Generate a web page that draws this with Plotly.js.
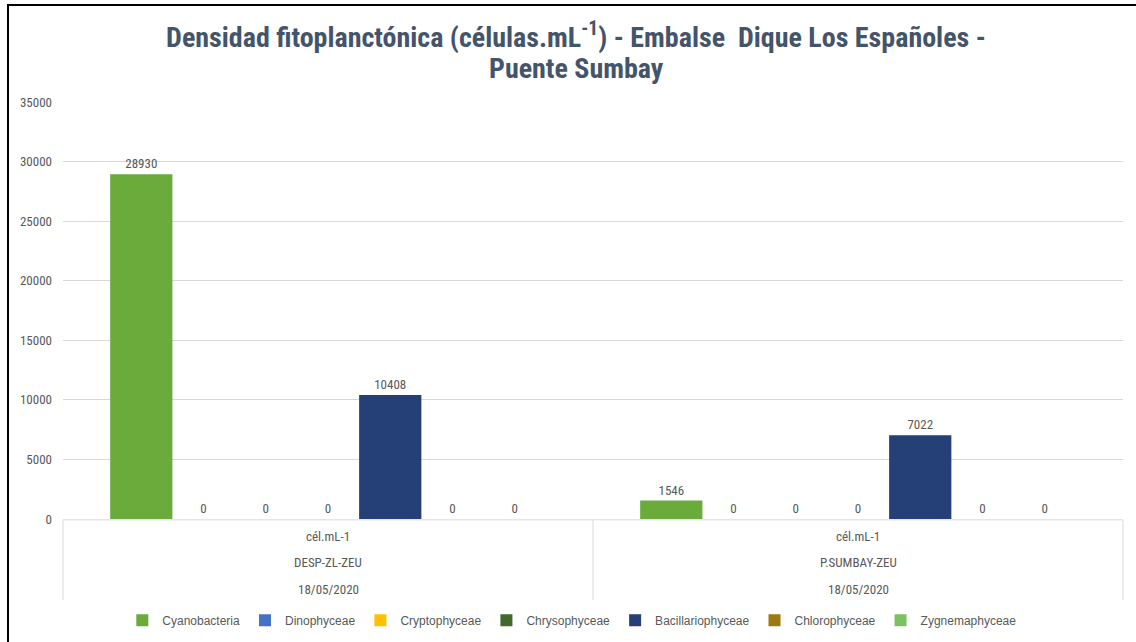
<!DOCTYPE html>
<html>
<head>
<meta charset="utf-8">
<script src="https://cdn.plot.ly/plotly-3.0.1.min.js"></script>
<style>
html,body{margin:0;padding:0;background:#fff;}
#chart{width:1136px;height:642px;}
#frame{position:absolute;left:7px;top:4px;width:1129px;height:638px;border-top:2px solid #000;border-left:2px solid #000;pointer-events:none;}
</style>
</head>
<body>
<div id="chart"></div>
<div id="frame"></div>
<script>
const sites = ['DESP-ZL-ZEU', 'P.SUMBAY-ZEU'];
const units = ['cél.mL-1', 'cél.mL-1'];
const dates = ['18/05/2020', '18/05/2020'];
const seriesNames = ['Cyanobacteria','Dinophyceae','Cryptophyceae','Chrysophyceae','Bacillariophyceae','Chlorophyceae','Zygnemaphyceae'];
const cyanobacteria = [28930, 1546];
const dinophyceae = [0, 0];
const cryptophyceae = [0, 0];
const chrysophyceae = [0, 0];
const bacillariophyceae = [10408, 7022];
const chlorophyceae = [0, 0];
const zygnemaphyceae = [0, 0];
const seriesValues = [cyanobacteria, dinophyceae, cryptophyceae, chrysophyceae, bacillariophyceae, chlorophyceae, zygnemaphyceae];
const seriesColors = ['#6AAB3C','#4472C4','#FFC000','#43682B','#253F77','#9C7A10','#7DC163'];
const titleLine1 = 'Densidad fitoplanctónica (células.mL<sup>-1</sup>) - Embalse  Dique Los Españoles -';
const titleLine2 = 'Puente Sumbay';

const narrow = '"Liberation Sans Narrow", "Arial Narrow", "Roboto Condensed", sans-serif';
const labelColor = '#595959';
const titleColor = '#44546A';
const titleSize = 28;

const traces = seriesNames.map((name, i) => ({
  type: 'bar',
  name: name,
  x: sites,
  y: seriesValues[i],
  marker: {color: seriesColors[i]},
  text: seriesValues[i].map(String),
  textposition: 'outside',
  textfont: {family: narrow, size: 13, color: labelColor},
  cliponaxis: false,
  hoverinfo: 'x+y+name'
}));

const annotations = [];
const rows = [units, sites, dates];
const rowY = [-0.042, -0.105, -0.168];
sites.forEach((s, j) => {
  rows.forEach((row, r) => {
    annotations.push({
      xref: 'paper', yref: 'paper',
      x: (j + 0.5) / sites.length, y: rowY[r],
      text: row[j], showarrow: false,
      xanchor: 'center', yanchor: 'middle',
      font: {family: narrow, size: 13, color: labelColor}
    });
  });
});
// second title line
annotations.push({
  xref: 'paper', yref: 'paper', x: (576 - 63) / 1060, y: 1 + (102 - 68) / 417,
  text: '<b>' + titleLine2 + '</b>', showarrow: false,
  xanchor: 'center', yanchor: 'middle',
  font: {family: narrow, size: titleSize, color: titleColor}
});

const lineColor = '#D9D9D9';
const shapes = [{type: 'line', xref: 'paper', yref: 'paper', x0: 0, x1: 1, y0: -0.002, y1: -0.002, line: {color: lineColor, width: 1}}];
for (let k = 0; k <= sites.length; k++) {
  shapes.push({type: 'line', xref: 'paper', yref: 'paper', x0: k / sites.length, x1: k / sites.length, y0: -0.002, y1: -0.195, line: {color: lineColor, width: 1}});
}

const layout = {
  width: 1136, height: 642,
  margin: {l: 63, r: 13, t: 102, b: 123, autoexpand: false},
  paper_bgcolor: '#fff', plot_bgcolor: '#fff',
  title: {
    text: '<b>' + titleLine1 + '</b>',
    font: {family: narrow, size: titleSize, color: titleColor},
    x: 0.507, xanchor: 'center', xref: 'container', y: 1 - 37 / 642, yanchor: 'middle', yref: 'container'
  },
  barmode: 'group', bargap: 0.178, bargroupgap: 0,
  xaxis: {showticklabels: false, showgrid: false, zeroline: false, showline: false, ticks: ''},
  yaxis: {
    range: [0, 35000], dtick: 5000, tick0: 0, tickformat: 'd',
    showgrid: true, gridcolor: lineColor, gridwidth: 1,
    zeroline: false, showline: false,
    tickfont: {family: narrow, size: 13, color: labelColor},
    ticklabelstandoff: 10
  },
  showlegend: true,
  legend: {
    orientation: 'h', x: 0.48, xanchor: 'center', y: -0.243, yanchor: 'middle',
    font: {family: '"Liberation Sans", Arial, sans-serif', size: 12, color: labelColor},
    traceorder: 'normal', itemwidth: 30
  },
  annotations: annotations,
  shapes: shapes
};

Plotly.newPlot('chart', traces, layout, {displayModeBar: false, staticPlot: true});
</script>
</body>
</html>
